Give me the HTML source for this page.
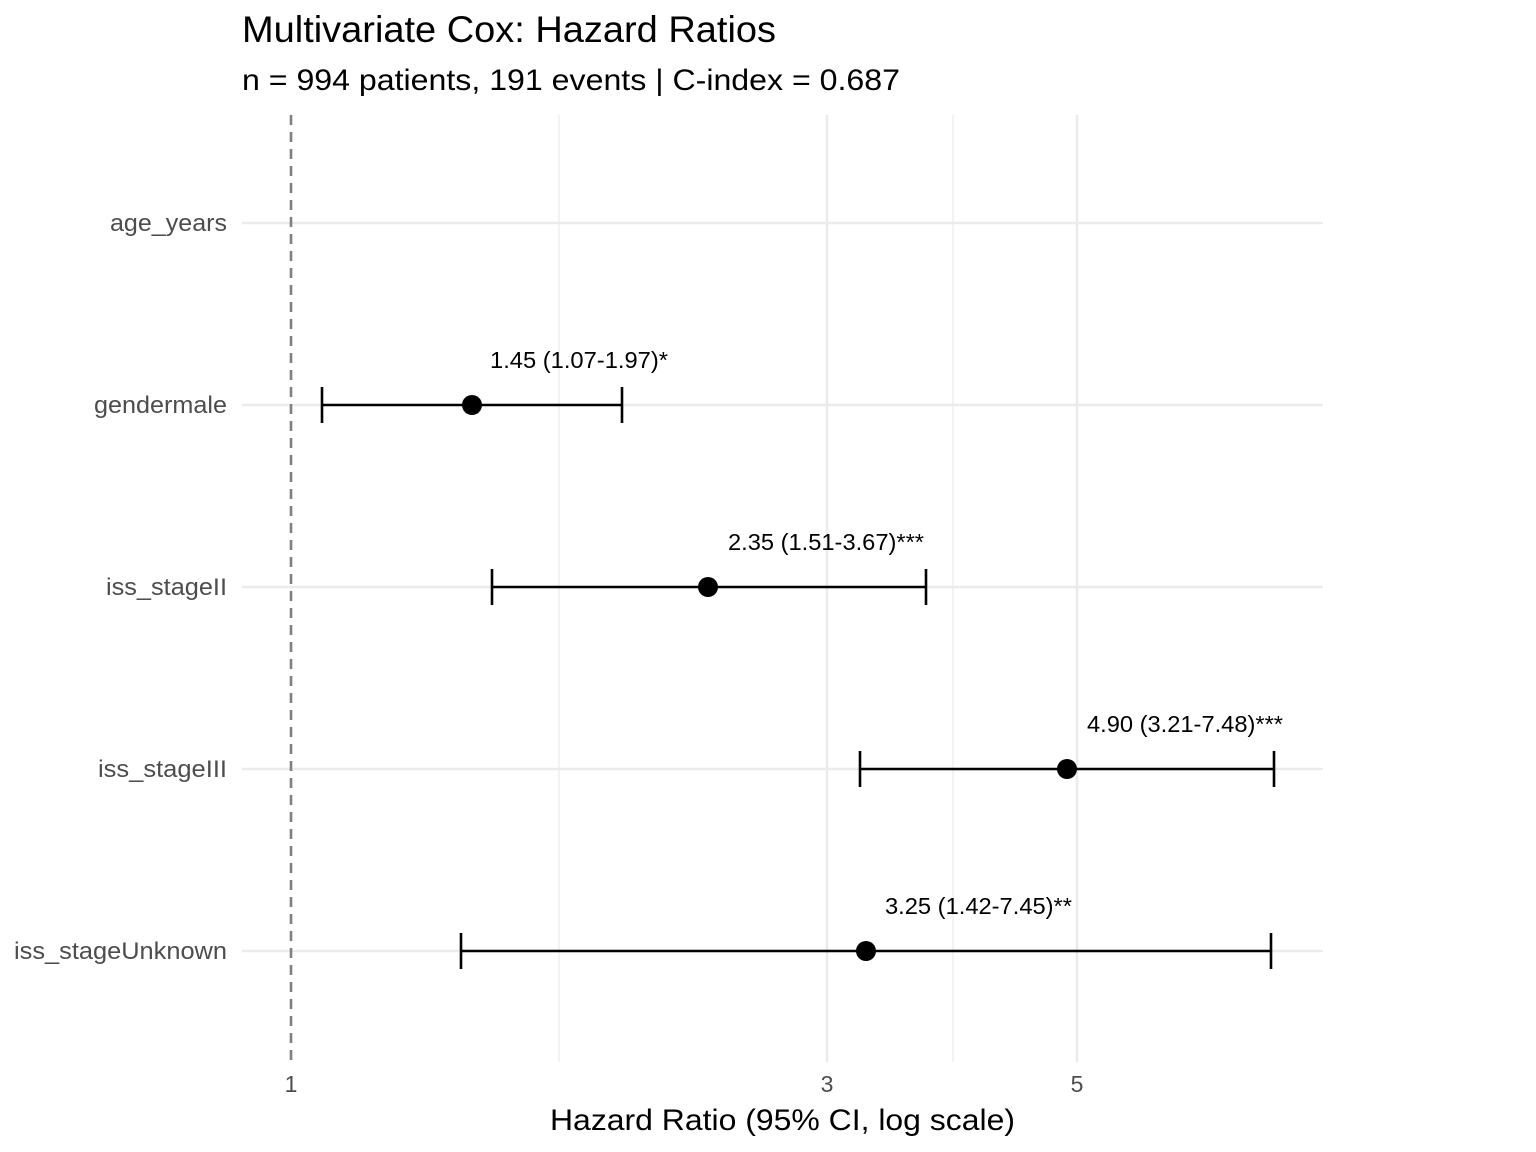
<!DOCTYPE html>
<html><head><meta charset="utf-8"><style>body{margin:0;background:#fff}svg{display:block}</style></head>
<body>
<svg width="1536" height="1152" xmlns="http://www.w3.org/2000/svg" font-family="Liberation Sans, sans-serif">
<rect width="1536" height="1152" fill="#fff"/>
<g stroke="#ebebeb" stroke-width="1.3">
<line x1="559" y1="115" x2="559" y2="1062"/>
<line x1="953" y1="115" x2="953" y2="1062"/>
</g>
<g stroke="#ebebeb" stroke-width="2.6">
<line x1="827" y1="115" x2="827" y2="1062"/>
<line x1="1077" y1="115" x2="1077" y2="1062"/>
<line x1="242" y1="223" x2="1323" y2="223"/>
<line x1="242" y1="405" x2="1323" y2="405"/>
<line x1="242" y1="587" x2="1323" y2="587"/>
<line x1="242" y1="769" x2="1323" y2="769"/>
<line x1="242" y1="951" x2="1323" y2="951"/>
</g>
<line x1="291" y1="115" x2="291" y2="1062" stroke="#808080" stroke-width="2.6" stroke-dasharray="10,7"/>
<g stroke="#000" stroke-width="2.6">
<line x1="322" y1="405" x2="622" y2="405"/><line x1="322" y1="387" x2="322" y2="423"/><line x1="622" y1="387" x2="622" y2="423"/>
<line x1="492" y1="587" x2="926" y2="587"/><line x1="492" y1="569" x2="492" y2="605"/><line x1="926" y1="569" x2="926" y2="605"/>
<line x1="860" y1="769" x2="1274" y2="769"/><line x1="860" y1="751" x2="860" y2="787"/><line x1="1274" y1="751" x2="1274" y2="787"/>
<line x1="461" y1="951" x2="1271" y2="951"/><line x1="461" y1="933" x2="461" y2="969"/><line x1="1271" y1="933" x2="1271" y2="969"/>
</g>
<g fill="#000">
<circle cx="472" cy="405" r="10"/><circle cx="708" cy="587" r="10"/><circle cx="1067" cy="769" r="10"/><circle cx="866" cy="951" r="10"/>
</g>
<g font-size="23" fill="#000" lengthAdjust="spacingAndGlyphs">
<text x="490" y="368" textLength="178" lengthAdjust="spacingAndGlyphs">1.45 (1.07-1.97)*</text>
<text x="728" y="550" textLength="196" lengthAdjust="spacingAndGlyphs">2.35 (1.51-3.67)***</text>
<text x="1087" y="732" textLength="196" lengthAdjust="spacingAndGlyphs">4.90 (3.21-7.48)***</text>
<text x="885" y="914" textLength="187" lengthAdjust="spacingAndGlyphs">3.25 (1.42-7.45)**</text>
</g>
<g font-size="24" fill="#4d4d4d">
<text x="110" y="231" textLength="117" lengthAdjust="spacingAndGlyphs">age_years</text>
<text x="94" y="413" textLength="133" lengthAdjust="spacingAndGlyphs">gendermale</text>
<text x="106" y="595" textLength="121" lengthAdjust="spacingAndGlyphs">iss_stageII</text>
<text x="98" y="777" textLength="129" lengthAdjust="spacingAndGlyphs">iss_stageIII</text>
<text x="14" y="959" textLength="213" lengthAdjust="spacingAndGlyphs">iss_stageUnknown</text>
</g>
<g font-size="23" fill="#4d4d4d" text-anchor="middle">
<text x="291" y="1092">1</text><text x="827" y="1092">3</text><text x="1077" y="1092">5</text>
</g>
<text x="550" y="1130" font-size="30" fill="#000" textLength="465" lengthAdjust="spacingAndGlyphs">Hazard Ratio (95% CI, log scale)</text>
<text x="242" y="42" font-size="37" fill="#000" textLength="534" lengthAdjust="spacingAndGlyphs">Multivariate Cox: Hazard Ratios</text>
<text x="242" y="90" font-size="30" fill="#000" textLength="658" lengthAdjust="spacingAndGlyphs">n = 994 patients, 191 events | C-index = 0.687</text>
</svg>
</body></html>
